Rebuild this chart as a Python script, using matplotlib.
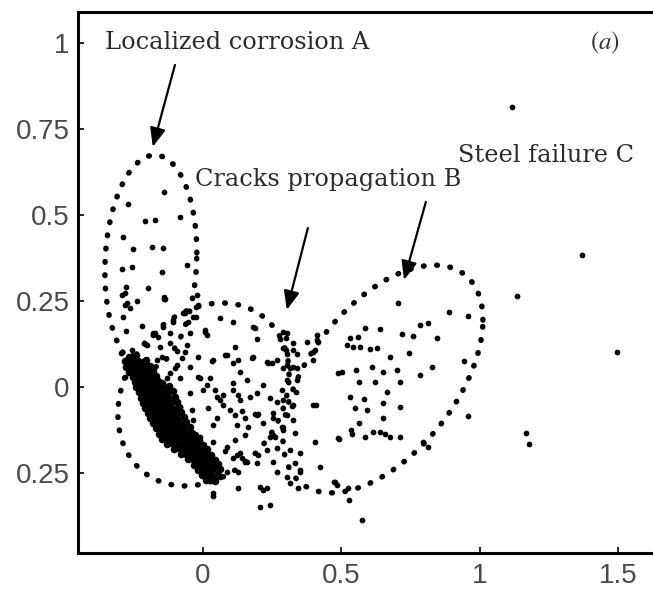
import numpy as np
import matplotlib.pyplot as plt

# ---- data (score plot, panel a) ----

# points inside the "localized corrosion" loop
region_a = [(-0.141, 0.567), (-0.271, 0.532), (-0.209, 0.483), (-0.173, 0.485),
            (-0.083, 0.494), (-0.289, 0.436), (-0.253, 0.401), (-0.184, 0.407),
            (-0.144, 0.404), (-0.148, 0.334), (-0.292, 0.343), (-0.256, 0.349),
            (-0.058, 0.355), (-0.278, 0.291), (-0.199, 0.288), (-0.141, 0.262),
            (-0.282, 0.273), (-0.292, 0.267), (-0.282, 0.238), (-0.264, 0.230),
            (-0.238, 0.250), (-0.289, 0.203), (-0.278, 0.163), (-0.220, 0.177),
            (-0.181, 0.151), (-0.162, 0.145), (-0.144, 0.174), (-0.119, 0.157),
            (-0.108, 0.195), (-0.141, 0.256), (-0.022, 0.267), (-0.065, 0.215),
            (-0.054, 0.189), (-0.025, 0.233), (-0.025, 0.203), (-0.274, 0.244),
            (-0.137, 0.256), (-0.018, 0.238), (-0.072, 0.215), (-0.036, 0.203),
            (-0.108, 0.189), (-0.173, 0.157)]

# points in the "cracks propagation" loop
region_b = [(0.007, 0.160), (0.014, 0.151), (-0.047, 0.157), (-0.209, 0.125),
            (-0.155, 0.116), (-0.148, 0.087), (-0.094, 0.105), (-0.076, 0.084),
            (-0.058, 0.122), (-0.296, 0.099), (-0.256, 0.108), (-0.238, 0.093),
            (0.032, 0.076), (-0.047, 0.058), (-0.018, 0.029), (-0.101, 0.055),
            (-0.083, 0.026), (-0.119, 0.041), (-0.282, 0.029), (0.014, 0.006),
            (0.043, -0.009), (0.061, 0.201), (0.108, 0.189), (0.188, 0.172),
            (0.195, 0.140), (0.289, 0.160), (0.300, 0.142), (0.325, 0.128),
            (0.375, 0.131), (0.397, 0.102), (0.397, 0.078), (0.007, 0.166),
            (-0.202, 0.122), (-0.119, 0.128), (-0.065, 0.102), (-0.166, 0.078),
            (-0.094, 0.064), (-0.018, 0.087), (0.036, 0.078), (0.087, 0.093),
            (0.126, 0.078), (0.181, 0.087), (0.231, 0.073), (0.267, 0.078),
            (0.303, 0.064), (0.325, 0.058), (0.289, 0.113), (0.325, 0.108),
            (-0.130, 0.026), (-0.011, 0.026), (0.025, 0.026), (0.108, 0.012),
            (0.159, 0.020), (0.217, 0.006), (0.285, -0.009), (0.303, 0.020),
            (0.339, 0.020), (-0.047, -0.017), (0.000, -0.009), (0.051, -0.029),
            (0.108, -0.009), (0.134, -0.038), (0.195, -0.017), (0.242, -0.032),
            (0.289, -0.038), (0.325, -0.052), (0.397, -0.052), (-0.083, -0.058),
            (-0.040, -0.067), (0.018, -0.061), (0.051, -0.090), (0.116, -0.081),
            (0.152, -0.090), (0.195, -0.081), (0.253, -0.090), (0.303, -0.081),
            (0.325, -0.096), (-0.072, -0.110), (-0.036, -0.096), (0.036, -0.110),
            (0.123, -0.110), (0.162, -0.116), (0.217, -0.105), (0.253, -0.140),
            (0.289, -0.125), (0.332, -0.134), (0.404, -0.160), (-0.011, -0.145),
            (0.036, -0.160), (0.087, -0.174), (0.134, -0.192), (0.159, -0.218),
            (0.108, -0.206), (0.199, -0.198), (0.231, -0.183), (0.267, -0.177),
            (0.314, -0.183), (0.350, -0.192), (0.000, -0.221), (0.051, -0.233),
            (0.087, -0.247), (0.014, -0.262), (0.061, -0.262), (0.126, -0.247),
            (0.195, -0.221), (0.267, -0.247), (0.303, -0.262), (0.350, -0.247),
            (0.422, -0.233), (0.036, -0.308), (0.126, -0.294), (0.206, -0.291),
            (0.217, -0.299), (0.231, -0.294), (0.206, -0.349), (0.242, -0.343),
            (0.314, -0.279), (0.181, 0.174), (0.303, 0.157), (0.278, 0.140),
            (0.412, 0.151), (0.412, 0.137), (0.300, 0.108), (0.303, 0.096),
            (0.339, 0.096), (0.404, 0.108), (0.235, 0.070), (0.249, 0.070),
            (0.177, 0.084), (0.289, 0.055), (0.314, 0.055), (0.339, 0.055),
            (0.116, 0.116), (0.079, 0.093), (0.108, 0.070), (0.134, 0.044),
            (0.336, -0.015), (0.072, -0.023), (0.170, -0.029), (0.061, -0.038),
            (0.072, -0.052), (0.126, -0.023), (0.267, -0.044), (0.321, -0.055),
            (0.408, -0.052), (0.097, -0.067), (0.141, -0.070), (0.188, -0.078),
            (0.199, -0.078), (0.253, -0.076), (0.285, -0.116), (0.152, -0.140),
            (0.242, -0.145), (0.260, -0.145), (0.116, -0.154), (0.079, -0.186),
            (0.123, -0.198), (0.141, -0.206), (0.152, -0.215), (0.253, -0.218),
            (0.332, -0.221), (0.036, -0.270), (0.343, -0.294), (0.036, -0.317),
            (0.350, -0.241), (0.487, 0.041)]

# points in the "steel failure" loop
region_c = [(0.704, 0.244), (0.888, 0.218), (0.957, 0.206), (0.585, 0.172),
            (0.639, 0.169), (0.783, 0.180), (0.812, 0.186), (0.718, 0.154),
            (0.758, 0.148), (0.845, 0.142), (0.531, 0.142), (0.560, 0.145),
            (0.520, 0.122), (0.542, 0.116), (0.567, 0.116), (0.603, 0.110),
            (0.628, 0.113), (0.675, 0.087), (0.744, 0.099), (0.942, 0.076),
            (0.827, 0.058), (0.502, 0.044), (0.552, 0.049), (0.610, 0.058),
            (0.650, 0.044), (0.700, 0.049), (0.783, 0.035), (0.711, 0.015),
            (0.563, 0.015), (0.621, 0.015), (0.664, -0.015), (0.531, -0.029),
            (0.581, -0.035), (0.650, -0.047), (0.711, -0.058), (0.549, -0.061),
            (0.592, -0.067), (0.650, -0.090), (0.563, -0.105), (0.534, -0.125),
            (0.538, -0.137), (0.491, -0.151), (0.585, -0.145), (0.614, -0.131),
            (0.639, -0.131), (0.657, -0.137), (0.675, -0.145), (0.711, -0.145),
            (0.957, -0.084), (0.812, -0.174), (0.794, -0.160), (0.473, -0.276),
            (0.484, -0.285), (0.523, -0.294), (0.527, -0.328), (0.574, -0.387),
            (0.487, -0.148), (0.477, -0.276)]

# isolated points on the right
outliers = [(1.116, 0.814), (1.368, 0.384), (1.495, 0.102), (1.134, 0.265),
            (1.166, -0.134), (1.177, -0.166)]

# dense band of points, one line per row of the band
cluster = [
    (-0.268, 0.088), (-0.252, 0.090),
    (-0.283, 0.074), (-0.266, 0.076), (-0.249, 0.072), (-0.233, 0.075), (-0.216, 0.073), (-0.204, 0.077),
    (-0.277, 0.059), (-0.259, 0.061), (-0.242, 0.057), (-0.224, 0.060), (-0.207, 0.058), (-0.190, 0.062),
    (-0.266, 0.044), (-0.250, 0.046), (-0.233, 0.042), (-0.216, 0.045), (-0.199, 0.043), (-0.180, 0.046),
    (-0.252, 0.029), (-0.236, 0.031), (-0.219, 0.027), (-0.202, 0.030), (-0.185, 0.028), (-0.168, 0.032),
    (-0.246, 0.014), (-0.229, 0.016), (-0.212, 0.012), (-0.195, 0.015), (-0.178, 0.013), (-0.162, 0.016), (-0.147, 0.012),
    (-0.240, -0.001), (-0.223, 0.001), (-0.206, -0.003), (-0.189, 0.000), (-0.172, -0.002), (-0.155, 0.001), (-0.138, -0.003), (-0.122, 0.002),
    (-0.232, -0.016), (-0.215, -0.014), (-0.198, -0.018), (-0.181, -0.015), (-0.164, -0.017), (-0.147, -0.014), (-0.130, -0.018), (-0.108, -0.013),
    (-0.224, -0.031), (-0.207, -0.029), (-0.190, -0.033), (-0.173, -0.030), (-0.156, -0.032), (-0.139, -0.029), (-0.122, -0.033), (-0.100, -0.028),
    (-0.216, -0.046), (-0.199, -0.044), (-0.182, -0.048), (-0.165, -0.045), (-0.148, -0.047), (-0.131, -0.044), (-0.114, -0.048), (-0.094, -0.043),
    (-0.208, -0.061), (-0.191, -0.059), (-0.174, -0.063), (-0.157, -0.060), (-0.140, -0.062), (-0.123, -0.059), (-0.106, -0.063), (-0.087, -0.058),
    (-0.200, -0.076), (-0.183, -0.074), (-0.166, -0.078), (-0.149, -0.075), (-0.132, -0.077), (-0.115, -0.074), (-0.098, -0.078), (-0.079, -0.073),
    (-0.191, -0.091), (-0.174, -0.089), (-0.157, -0.093), (-0.140, -0.090), (-0.123, -0.092), (-0.106, -0.089), (-0.089, -0.093), (-0.070, -0.088),
    (-0.182, -0.106), (-0.165, -0.104), (-0.148, -0.108), (-0.131, -0.105), (-0.114, -0.107), (-0.097, -0.104), (-0.080, -0.108), (-0.060, -0.103),
    (-0.171, -0.121), (-0.154, -0.119), (-0.137, -0.123), (-0.120, -0.120), (-0.103, -0.122), (-0.086, -0.119), (-0.069, -0.123), (-0.046, -0.118),
    (-0.159, -0.136), (-0.142, -0.134), (-0.125, -0.138), (-0.108, -0.135), (-0.091, -0.137), (-0.074, -0.134), (-0.057, -0.138), (-0.040, -0.135), (-0.030, -0.139),
    (-0.148, -0.151), (-0.131, -0.149), (-0.114, -0.153), (-0.097, -0.150), (-0.080, -0.152), (-0.063, -0.149), (-0.046, -0.153), (-0.029, -0.150), (-0.015, -0.154),
    (-0.128, -0.166), (-0.111, -0.164), (-0.094, -0.168), (-0.077, -0.165), (-0.060, -0.167), (-0.043, -0.164), (-0.026, -0.168), (-0.009, -0.165), (0.001, -0.169),
    (-0.103, -0.181), (-0.086, -0.179), (-0.069, -0.183), (-0.052, -0.180), (-0.035, -0.182), (-0.018, -0.179), (-0.001, -0.183), (0.013, -0.180),
    (-0.078, -0.196), (-0.061, -0.194), (-0.044, -0.198), (-0.027, -0.195), (-0.010, -0.197), (0.007, -0.194), (0.028, -0.198),
    (-0.053, -0.211), (-0.036, -0.209), (-0.019, -0.213), (-0.002, -0.210), (0.015, -0.212), (0.032, -0.209), (0.045, -0.213),
    (-0.033, -0.226), (-0.016, -0.224), (0.001, -0.228), (0.018, -0.225), (0.035, -0.227), (0.056, -0.223),
    (-0.018, -0.241), (-0.001, -0.239), (0.016, -0.243), (0.033, -0.240), (0.050, -0.242), (0.060, -0.238),
    (-0.003, -0.256), (0.014, -0.254), (0.031, -0.258), (0.053, -0.255),
    (0.012, -0.271), (0.029, -0.269), (0.043, -0.273),
]

# dotted loops drawn by the authors: centre, half extents, phase (deg)
loops_cx = [-0.188, 0.002, 0.650]
loops_cy = [0.363, -0.022, 0.023]
loops_rx = [0.166, 0.309, 0.361]
loops_ry = [0.311, 0.266, 0.331]
loops_phase = [85.0, 77.5, 58.8]

# annotations: text, text anchor, arrow tail, arrow tip
labels = ['Localized corrosion A', 'Cracks propagation B', 'Steel failure C']
label_xy = [(-0.354, 1.000), (-0.029, 0.602), (0.921, 0.674)]
arrow_from = [(-0.101, 0.936), (0.379, 0.462), (0.805, 0.538)]
arrow_to = [(-0.181, 0.698), (0.303, 0.224), (0.726, 0.311)]

xticks = [0, 0.5, 1, 1.5]
xticklabels = ['0', '0.5', '1', '1.5']
yticks = [1, 0.75, 0.5, 0.25, 0, -0.25]
yticklabels = ['1', '0.75', '0.5', '0.25', '0', '0.25']


plt.rcParams['mathtext.fontset'] = 'stix'

fig = plt.figure(figsize=(6.53, 5.92), dpi=100)
ax = fig.add_axes([78 / 653, 39 / 592, 1 - 78 / 653, 541 / 592])

scattered = np.array(region_a + region_b + region_c + outliers)
ax.scatter(scattered[:, 0], scattered[:, 1], s=17, c='black', linewidths=0, zorder=3)
band = np.array(cluster)
ax.scatter(band[:, 0], band[:, 1], s=30, c='black', linewidths=0, zorder=3)

t = np.linspace(0, 2 * np.pi, 600)
for cx, cy, rx, ry, ph in zip(loops_cx, loops_cy, loops_rx, loops_ry, loops_phase):
    ex = cx + rx * np.cos(t)
    ey = cy + ry * np.cos(t - np.radians(ph))
    ax.plot(ex, ey, color='black', lw=4.0, linestyle=(0, (0.1, 2.3)),
            dash_capstyle='round', zorder=2)

for txt, xy, a0, a1 in zip(labels, label_xy, arrow_from, arrow_to):
    ax.text(xy[0], xy[1], txt, fontsize=17.3, family='DejaVu Serif',
            color='#2a2a2a', ha='left', va='center')
    ax.annotate('', xy=a1, xytext=a0,
                arrowprops=dict(arrowstyle='-|>,head_length=0.6,head_width=0.25',
                                lw=1.6, color='black', shrinkA=0, shrinkB=0,
                                mutation_scale=19))

ax.text(1.397, 1.000, r'$(\mathit{a})$', fontsize=18, color='#2a3040',
        ha='left', va='center')

ax.set_xlim(-0.451, 1.625)
ax.set_ylim(-0.483, 1.090)
ax.set_xticks(xticks)
ax.set_xticklabels(xticklabels)
ax.set_yticks(yticks)
ax.set_yticklabels(yticklabels)

for side in ['left', 'bottom', 'top']:
    ax.spines[side].set_linewidth(2.2)
ax.spines['right'].set_visible(False)

ax.tick_params(direction='in', length=4, width=1.2, labelsize=20,
               labelcolor='#4a4a4a', pad=6)
ax.tick_params(axis='x', pad=7)
for lab in ax.get_xticklabels() + ax.get_yticklabels():
    lab.set_family('Liberation Sans')

fig.savefig('out.png', dpi=100)
